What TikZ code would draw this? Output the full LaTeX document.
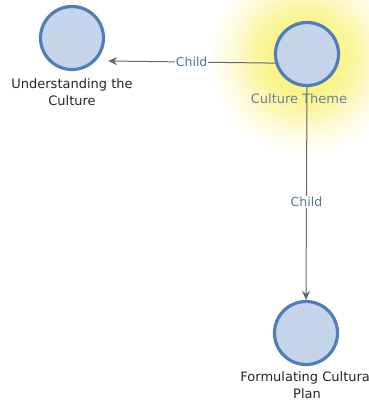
\documentclass[tikz,border=0pt]{standalone}
\usepackage{fontspec}
\setmainfont{DejaVu Sans}
\usetikzlibrary{arrows.meta,calc}
\definecolor{nodefill}{HTML}{C6D4EA}
\definecolor{noderim}{HTML}{4F7EB9}
\definecolor{edgecol}{HTML}{5E6A74}
\definecolor{edgetext}{HTML}{5374A8}
\definecolor{seltext}{HTML}{6D8098}
\definecolor{glowcol}{HTML}{FAF38A}
\pgfdeclareradialshading{selglow}{\pgfpoint{0bp}{0bp}}{%
  color(0bp)=(glowcol);
  color(9bp)=(glowcol);
  color(14bp)=(glowcol!70);
  color(19bp)=(glowcol!30);
  color(25bp)=(white);
  color(50bp)=(white)}
\tikzset{
  topic/.style={circle, draw=noderim, fill=nodefill, line width=3.2pt,
    minimum size=63pt, inner sep=0pt},
  caption/.style={font=\fontsize{13}{17}\selectfont, align=center,
    text=black!85, inner sep=0pt},
  link/.style={draw=edgecol, line width=1pt,
    -{Stealth[length=9pt,width=8pt]}},
  linklabel/.style={fill=white, text=edgetext, inner sep=1pt,
    font=\fontsize{12.5}{14}\selectfont}
}
\begin{document}
\begin{tikzpicture}[x=1pt,y=-1pt]
  \useasboundingbox (0,0) rectangle (369,404);
  \begin{scope}
    \clip (0,0) rectangle (369,404);
    \shade[shading=selglow] (305,58) circle (98);
  \end{scope}

  % topics
  \node[topic] (under) at (72,38) {};
  \node[topic] (theme) at (307,54) {};
  \node[topic] (plan)  at (306,333) {};

  % captions
  \node[caption, anchor=north] (underlbl) at (72,78)
    {Understanding the\\Culture};
  \node[caption, anchor=north, text=seltext] (themelbl) at (299,93)
    {Culture Theme};
  \node[caption, anchor=north] (planlbl) at (307,371)
    {Formulating Cultural\\Plan};

  % child links
  \coordinate (underin) at ($(under.east)+(3,23)$);
  \path[link] (theme.196) -- node[linklabel] {Child} (underin);
  \path[link] (theme.south) -- node[linklabel, pos=0.54] {Child} (plan.north);
\end{tikzpicture}
\end{document}
